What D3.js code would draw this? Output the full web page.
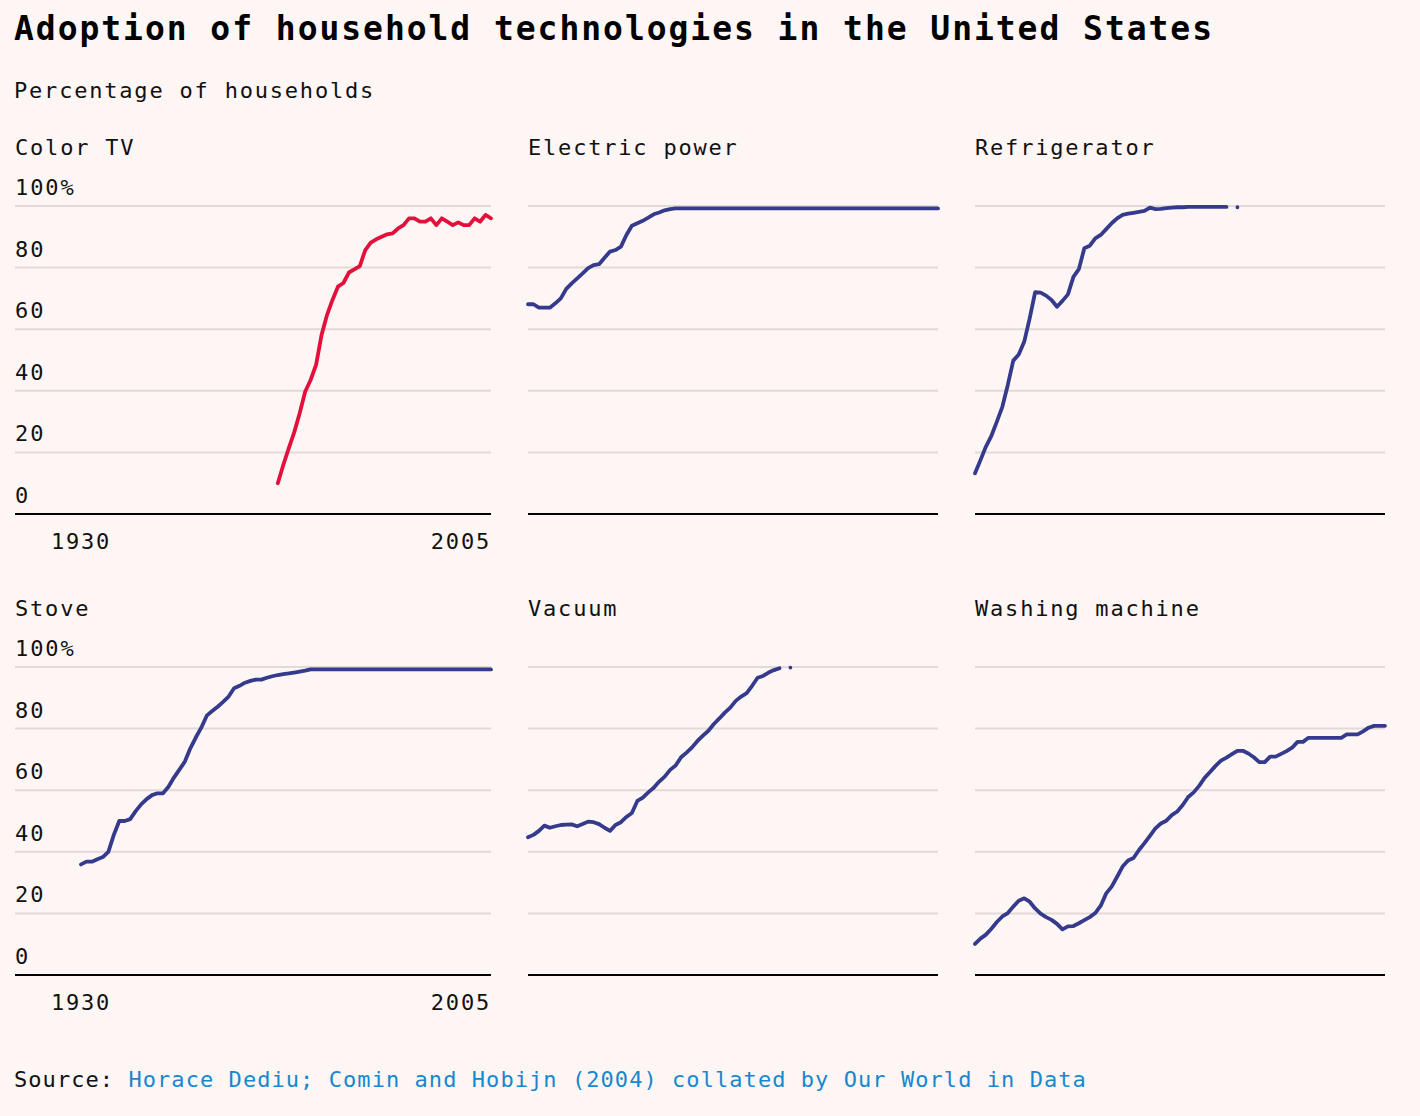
<!DOCTYPE html>
<html><head><meta charset="utf-8">
<script src="https://cdn.jsdelivr.net/npm/d3@7"></script>
<style>
html,body{margin:0;padding:0;background:#fdf6f4;}
svg{display:block;font-family:"DejaVu Sans Mono",monospace;}
</style></head><body>
<svg id="chart" width="1420" height="1116"></svg>
<script>
// ---- data ----
const chartTitle = "Adoption of household technologies in the United States";
const chartSubtitle = "Percentage of households";
const sourceLabel = "Source: ";
const sourceText = "Horace Dediu; Comin and Hobijn (2004) collated by Our World in Data";
const panelNames = ["Color TV", "Electric power", "Refrigerator", "Stove", "Vacuum", "Washing machine"];
const yTickValues = [0, 20, 40, 60, 80, 100];
const yTickLabels = ["0", "20", "40", "60", "80", "100%"];
const xTickValues = [1930, 2005];
const xTickLabels = ["1930", "2005"];
const yearDomain = [1930, 2005];

// values by year, starting at the given start year (null = missing year)
const colorTvStart = 1966;
const colorTvValues = [10.0, 15.9, 21.3, 26.5, 32.7, 39.7, 43.5, 48.4, 58.1, 64.6, 69.5, 73.8, 75.0, 78.4, 79.4, 80.5,
  85.7, 88.1, 89.2, 90.0, 90.8, 91.1, 92.7, 93.8, 96.0, 96.0, 94.9, 94.9, 96.0, 93.8, 96.0, 94.9, 93.8, 94.7, 93.8,
  93.8, 96.0, 94.9, 97.1, 96.0];

const electricStart = 1930;
const electricValues = [68.1, 68.1, 67.0, 67.0, 67.0, 68.4, 70.0, 73.1, 74.9, 76.5, 78.1, 79.8, 80.8, 81.1, 83.2, 85.2,
  85.7, 86.8, 90.6, 93.6, 94.4, 95.2, 96.2, 97.3, 97.9, 98.6, 99.0, 99.2, 99.2, 99.2, 99.2, 99.2, 99.2, 99.2, 99.2,
  99.2, 99.2, 99.2, 99.2, 99.2, 99.2, 99.2, 99.2, 99.2, 99.2, 99.2, 99.2, 99.2, 99.2, 99.2, 99.2, 99.2, 99.2, 99.2,
  99.2, 99.2, 99.2, 99.2, 99.2, 99.2, 99.2, 99.2, 99.2, 99.2, 99.2, 99.2, 99.2, 99.2, 99.2, 99.2, 99.2, 99.2, 99.2,
  99.2, 99.2, 99.2];

const fridgeStart = 1930;
const fridgeValues = [13.2, 17.5, 21.9, 25.4, 30.0, 34.8, 41.9, 49.8, 51.8, 55.9, 63.5, 72.0, 71.9, 70.9, 69.5, 67.3,
  69.2, 71.3, 77.0, 79.5, 86.3, 87.1, 89.5, 90.6, 92.5, 94.4, 96.0, 97.1, 97.5, 97.8, 98.1, 98.4, 99.5, 99.0, 99.1,
  99.3, 99.5, 99.6, 99.6, 99.7, 99.7, 99.7, 99.7, 99.7, 99.7, 99.7, 99.7, null, 99.6];

const stoveStart = 1930;
const stoveValues = [35.9, 36.8, 36.8, 37.6, 38.3, 40.0, 45.5, 50.0, 50.0, 50.6, 53.2, 55.4, 57.1, 58.4, 59.0, 59.0,
  61.1, 64.1, 66.7, 69.3, 73.6, 77.1, 80.3, 84.2, 85.7, 87.1, 88.7, 90.4, 93.1, 93.9, 94.9, 95.5, 95.9, 95.9, 96.5,
  97.0, 97.4, 97.7, 97.9, 98.2, 98.5, 98.8, 99.2, 99.2, 99.2, 99.2, 99.2, 99.2, 99.2, 99.2, 99.2, 99.2, 99.2, 99.2,
  99.2, 99.2, 99.2, 99.2, 99.2, 99.2, 99.2, 99.2, 99.2, 99.2, 99.2, 99.2, 99.2, 99.2, 99.2, 99.2, 99.2, 99.2, 99.2,
  99.2, 99.2, 99.2];

const vacuumStart = 1930;
const vacuumValues = [44.7, 45.5, 46.8, 48.5, 47.8, 48.3, 48.7, 48.8, 48.9, 48.3, 49.0, 49.8, 49.6, 49.0, 47.8, 46.8,
  48.7, 49.6, 51.3, 52.6, 56.5, 57.6, 59.3, 60.8, 62.8, 64.4, 66.6, 68.0, 70.7, 72.2, 73.9, 76.0, 77.7, 79.3, 81.5,
  83.3, 85.2, 86.8, 89.0, 90.4, 91.5, 93.9, 96.5, 97.1, 98.2, 99.0, 99.6, null, 99.8];

const washerStart = 1930;
const washerValues = [10.1, 11.8, 13.1, 15.0, 17.2, 19.0, 20.1, 22.2, 24.1, 24.9, 23.8, 21.6, 19.9, 18.8, 17.9, 16.6,
  14.8, 15.8, 15.9, 16.8, 17.8, 18.8, 20.1, 22.5, 26.5, 28.7, 31.9, 35.2, 37.2, 38.0, 40.6, 42.8, 45.2, 47.6, 49.2,
  50.1, 51.9, 53.1, 55.2, 57.8, 59.3, 61.4, 64.0, 65.9, 67.9, 69.6, 70.6, 71.7, 72.8, 72.8, 71.9, 70.7, 69.1, 69.1,
  70.9, 70.9, 71.8, 72.7, 73.8, 75.7, 75.7, 77.0, 77.0, 77.0, 77.0, 77.0, 77.0, 77.0, 78.1, 78.1, 78.1, 79.1, 80.3,
  80.9, 80.9, 80.9];

const seriesStarts = [colorTvStart, electricStart, fridgeStart, stoveStart, vacuumStart, washerStart];
const seriesValues = [colorTvValues, electricValues, fridgeValues, stoveValues, vacuumValues, washerValues];
const highlighted = ["Color TV"];

// ---- layout ----
const W = 1420, H = 1116;
const colRanges = [[81, 491], [528, 938], [975, 1385]];
const gridLeft = [15, 528, 975];
const rowRanges = [[514, 206], [975, 667]];
const navy = "#353a8d", red = "#e2103b";

const svg = d3.select("#chart");
svg.append("rect").attr("width", W).attr("height", H).attr("fill", "#fdf6f4");

svg.append("text").attr("x", 14).attr("y", 40)
  .attr("font-size", 33).attr("font-weight", "bold").attr("letter-spacing", 1.95)
  .attr("fill", "#000").text(chartTitle);
svg.append("text").attr("x", 14).attr("y", 98)
  .attr("font-size", 22).attr("letter-spacing", 1.8)
  .attr("fill", "#111").text(chartSubtitle);

const src = svg.append("text").attr("x", 14).attr("y", 1087)
  .attr("font-size", 22).attr("letter-spacing", 1.06);
src.append("tspan").attr("fill", "#111").text(sourceLabel);
src.append("tspan").attr("fill", "#1787cf").text(sourceText);

panelNames.forEach((name, i) => {
  const col = i % 3, row = Math.floor(i / 3);
  const x = d3.scaleLinear().domain(yearDomain).range(colRanges[col]);
  const y = d3.scaleLinear().domain([0, 100]).range(rowRanges[row]);
  const g = svg.append("g");
  const gl = gridLeft[col], gr = colRanges[col][1];

  // gridlines
  g.selectAll("line.grid").data(yTickValues.filter(v => v > 0)).join("line")
    .attr("x1", gl).attr("x2", gr)
    .attr("y1", d => y(d)).attr("y2", d => y(d))
    .attr("stroke", "#e2dad8").attr("stroke-width", 2);
  // baseline
  g.append("line").attr("x1", gl).attr("x2", gr).attr("y1", y(0)).attr("y2", y(0))
    .attr("stroke", "#000").attr("stroke-width", 2);

  // title
  g.append("text").attr("x", gl).attr("y", rowRanges[row][1] - 51)
    .attr("font-size", 22).attr("letter-spacing", 1.8).attr("fill", "#111").text(name);

  if (col === 0) {
    g.selectAll("text.yt").data(yTickValues).join("text")
      .attr("x", gl).attr("y", d => y(d) - 11)
      .attr("font-size", 22).attr("letter-spacing", 1.9).attr("fill", "#111")
      .text((d, k) => yTickLabels[k]);
    g.selectAll("text.xt").data(xTickValues).join("text")
      .attr("x", d => x(d)).attr("y", y(0) + 35)
      .attr("text-anchor", (d, k) => k === 0 ? "middle" : "end")
      .attr("font-size", 22).attr("letter-spacing", 1.8).attr("fill", "#111")
      .text((d, k) => xTickLabels[k]);
  }

  const data = seriesValues[i].map((v, k) => ({year: seriesStarts[i] + k, value: v}));
  const line = d3.line().defined(d => d.value != null)
    .x(d => x(d.year)).y(d => y(d.value));
  g.append("path").datum(data).attr("d", line)
    .attr("fill", "none")
    .attr("stroke", highlighted.includes(name) ? red : navy)
    .attr("stroke-width", 3.8)
    .attr("stroke-linejoin", "round").attr("stroke-linecap", "round");
});
</script>
</body></html>
